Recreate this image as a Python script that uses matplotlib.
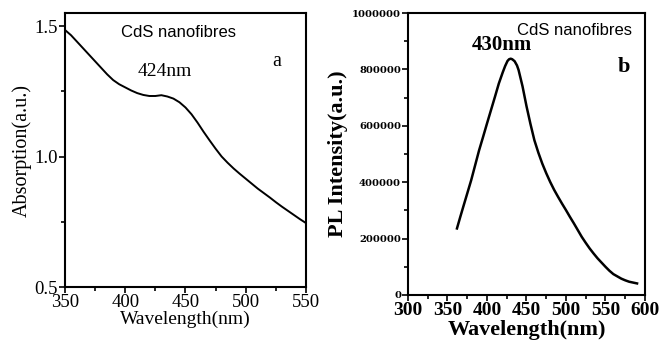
import matplotlib
matplotlib.use("Agg")
import matplotlib.pyplot as plt
from matplotlib.ticker import MultipleLocator, FuncFormatter

# Absorption spectrum (panel a)
abs_wavelength = [350, 355, 360, 365, 370, 375, 380, 385, 390, 395, 400, 405, 410, 415,
                  420, 425, 430, 435, 440, 445, 450, 455, 460, 465, 470, 475, 480, 485,
                  490, 495, 500, 505, 510, 515, 520, 525, 530, 535, 540, 545, 550]
abs_values = [1.485, 1.465, 1.44, 1.415, 1.39, 1.365, 1.34, 1.315, 1.293, 1.277, 1.265,
              1.253, 1.243, 1.236, 1.232, 1.232, 1.235, 1.23, 1.222, 1.208, 1.188, 1.162,
              1.13, 1.095, 1.062, 1.03, 1.0, 0.976, 0.954, 0.934, 0.915, 0.896, 0.877,
              0.86, 0.843, 0.825, 0.808, 0.792, 0.776, 0.76, 0.745]

# PL spectrum (panel b)
pl_wavelength = [362, 366, 370, 375, 380, 385, 390, 395, 400, 405, 410, 415, 420, 423,
                 426, 428, 430, 432, 435, 438, 440, 445, 450, 455, 460, 465, 470, 475,
                 480, 485, 490, 495, 500, 505, 510, 515, 520, 525, 530, 535, 540, 545,
                 550, 555, 560, 565, 570, 575, 580, 585, 590]
pl_values = [236000, 275000, 313000, 360000, 407000, 460000, 513000, 560000, 608000,
             655000, 702000, 750000, 790000, 812000, 830000, 836000, 838000, 836000,
             829000, 814000, 798000, 740000, 670000, 607000, 549000, 505000, 466000,
             432000, 401000, 373000, 348000, 324000, 301000, 277000, 254000, 230000,
             206000, 185000, 165000, 147000, 130000, 115000, 100000, 86000, 74000,
             66000, 58000, 52000, 47000, 44000, 41000]

serif = "Liberation Serif"
sans = "Liberation Sans"

fig = plt.figure(figsize=(6.59, 3.47), dpi=100)
ax1 = fig.add_axes([0.0986, 0.1729, 0.3657, 0.7896])
ax2 = fig.add_axes([0.6191, 0.1499, 0.3596, 0.8126])

# Panel a
ax1.plot(abs_wavelength, abs_values, color="black", lw=1.4)
ax1.set_xlim(350, 550)
ax1.set_ylim(0.5, 1.55)
ax1.xaxis.set_major_locator(MultipleLocator(50))
ax1.xaxis.set_minor_locator(MultipleLocator(25))
ax1.yaxis.set_major_locator(MultipleLocator(0.5))
ax1.yaxis.set_minor_locator(MultipleLocator(0.25))
ax1.yaxis.set_major_formatter(FuncFormatter(lambda v, p: f"{v:.1f}"))
ax1.tick_params(which="both", direction="out", top=False, right=False, width=1.2)
ax1.tick_params(which="major", length=4, pad=1, labelsize=13.5)
ax1.tick_params(which="minor", length=3)
for lab in ax1.get_xticklabels() + ax1.get_yticklabels():
    lab.set_family(serif)
ax1.set_xlabel("Wavelength(nm)", family=serif, fontsize=14, labelpad=0)
ax1.set_ylabel("Absorption(a.u.)", family=serif, fontsize=14.5, labelpad=2)
for s in ax1.spines.values():
    s.set_linewidth(1.5)
ax1.text(444, 1.477, "CdS nanofibres", family=sans, fontsize=12, ha="center", va="center")
ax1.text(526, 1.366, "a", family=serif, fontsize=14.5, ha="center", va="center")
ax1.text(433, 1.324, "424nm", family=serif, fontsize=14, ha="center", va="center")

# Panel b
ax2.plot(pl_wavelength, pl_values, color="black", lw=1.8)
ax2.set_xlim(300, 600)
ax2.set_ylim(0, 1000000)
ax2.xaxis.set_major_locator(MultipleLocator(50))
ax2.xaxis.set_minor_locator(MultipleLocator(25))
ax2.yaxis.set_major_locator(MultipleLocator(200000))
ax2.yaxis.set_minor_locator(MultipleLocator(100000))
ax2.yaxis.set_major_formatter(FuncFormatter(lambda v, p: f"{int(round(v))}"))
ax2.tick_params(which="both", direction="out", top=False, right=False, width=1.2)
ax2.tick_params(which="major", length=4, pad=1)
ax2.tick_params(which="minor", length=3)
ax2.tick_params(axis="x", labelsize=14)
ax2.tick_params(axis="y", labelsize=7.2)
for lab in ax2.get_xticklabels():
    lab.set_family(serif)
    lab.set_fontweight("bold")
for lab in ax2.get_yticklabels():
    lab.set_family("DejaVu Serif")
    lab.set_fontweight("bold")
ax2.set_xlabel("Wavelength(nm)", family=serif, fontsize=16, fontweight="bold", labelpad=1)
ax2.set_ylabel("PL Intensity(a.u.)", family=serif, fontsize=16, fontweight="bold", labelpad=3)
for s in ax2.spines.values():
    s.set_linewidth(1.5)
ax2.text(511, 938000, "CdS nanofibres", family=sans, fontsize=12, ha="center", va="center")
ax2.text(419, 885000, "430nm", family=serif, fontsize=15, fontweight="bold", ha="center", va="center")
ax2.text(573, 807000, "b", family=serif, fontsize=16, fontweight="bold", ha="center", va="center")

fig.savefig("out.png", dpi=100)
